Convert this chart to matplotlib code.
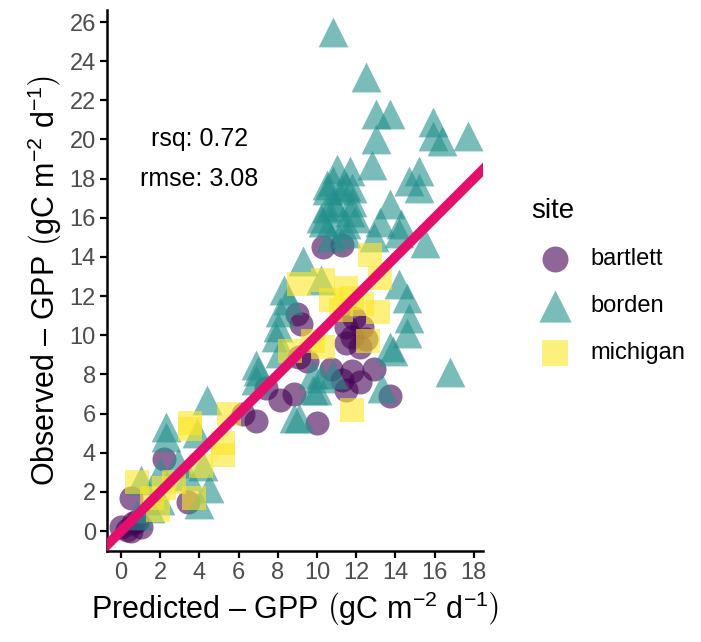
import matplotlib
matplotlib.use("Agg")
import matplotlib.pyplot as plt

plt.rcParams['font.family'] = ['Liberation Sans', 'DejaVu Sans']
plt.rcParams['mathtext.fontset'] = 'custom'
plt.rcParams['mathtext.rm'] = 'Liberation Sans'
plt.rcParams['mathtext.it'] = 'Liberation Sans:italic'

sites = ["bartlett", "borden", "michigan"]
colors = ["#440154", "#21908C", "#FDE725"]
markers = ["o", "^", "s"]
sizes = [300, 460, 280]

bartlett_x = [10.3, 11.3, 9.0, 9.2, 11.5, 11.8, 12.3, 11.5, 12.2, 11.9, 12.5,
              9.5, 10.7, 11.8, 12.9, 11.3, 11.5, 12.2, 7.4, 8.1, 8.8, 6.9, 10.0,
              13.7, 6.2, 9.1, 2.2, 3.4, 0.5, 0.6, 0.3, 1.0, 0.0, 0.5, 0.8]
bartlett_y = [14.5, 14.6, 11.1, 10.6, 10.4, 9.9, 10.4, 9.6, 9.4, 10.9, 9.8,
              8.7, 8.3, 8.2, 8.3, 7.7, 7.2, 7.6, 7.3, 6.7, 7.0, 5.6, 5.5,
              6.9, 6.0, 8.9, 3.7, 1.5, 1.7, 0.4, 0.05, 0.2, 0.2, 0.0, 0.5]

borden_x = [10.8, 12.5, 13.0, 13.7, 13.0, 12.8, 15.9, 15.9, 16.4, 17.7,
            15.2, 14.7, 15.2, 11.0, 11.7, 10.8, 11.5, 10.5, 11.3, 11.8,
            10.5, 11.7, 10.9, 13.7, 10.3, 13.2, 14.3, 10.7, 11.5, 14.2, 15.5,
            10.5, 10.8, 11.8, 10.2, 12.0, 11.5, 10.7, 12.9,
            14.2, 14.6, 14.7, 13.7, 13.9, 16.8, 8.3, 8.1, 8.0, 7.9, 8.5,
            10.2, 9.3, 8.1, 14.6, 6.9, 7.0, 6.9, 9.8, 10.8, 9.8, 9.1, 10.2,
            13.3, 10.0, 8.8, 4.4, 2.3, 2.3, 3.9, 4.2, 4.5, 4.0, 2.0, 2.0,
            1.0, 2.9, 3.4, 1.5, 0.8]
borden_y = [25.5, 23.2, 21.3, 21.3, 20.0, 18.7, 20.9, 20.2, 19.9, 20.2,
            18.4, 17.9, 17.5, 18.5, 18.4, 17.9, 17.6, 17.4, 17.4, 17.5,
            16.5, 16.3, 16.6, 16.7, 15.8, 15.8, 15.7, 15.8, 15.7, 15.2, 14.7,
            17.7, 16.8, 16.8, 16.0, 16.0, 15.2, 15.0, 15.0,
            12.6, 11.9, 10.9, 9.4, 9.2, 8.1, 12.3, 11.2, 10.4, 9.9, 11.8,
            12.8, 13.8, 9.1, 10.1, 8.5, 8.2, 7.7, 8.0, 8.0, 7.2, 5.8, 7.8,
            7.3, 7.2, 5.8, 6.7, 5.3, 4.8, 5.0, 3.3, 2.2, 1.4, 3.0, 1.6,
            2.6, 3.5, 2.8, 1.2, 0.8]

michigan_x = [12.7, 9.1, 10.3, 11.5, 13.2, 10.7, 11.8, 13.1, 12.6, 8.6, 10.3,
              9.8, 11.8, 12.3, 11.2, 5.5, 3.5, 5.2, 5.2, 4.1, 0.8, 2.7, 1.6,
              1.9, 3.7, 2.2, 3.5]
michigan_y = [14.1, 12.6, 12.8, 12.4, 12.9, 11.8, 11.9, 11.2, 9.7, 9.2, 9.4,
              9.7, 6.2, 11.6, 11.3, 6.0, 5.5, 4.5, 3.9, 3.3, 2.5, 2.5, 1.7,
              1.1, 1.7, 2.2, 5.2]

rsq_label = "rsq: 0.72"
rmse_label = "rmse: 3.08"
xticks = list(range(0, 19, 2))
yticks = list(range(0, 27, 2))

fig = plt.figure(figsize=(7.01, 6.42), dpi=100)
ax = fig.add_axes([0.1526, 0.1417, 0.689 - 0.1526, 0.984 - 0.1417])

data = [(bartlett_x, bartlett_y), (borden_x, borden_y), (michigan_x, michigan_y)]
handles = []
for (xs, ys), site, c, m, s in zip(data, sites, colors, markers, sizes):
    h = ax.scatter(xs, ys, s=s, c=c, marker=m, alpha=0.6, linewidths=0, label=site, zorder=2)
    handles.append(h)

ax.plot([-2, 20], [-2, 20], color="#E40F6A", lw=7, solid_capstyle='butt', zorder=3)
ax.set_xlim(-0.72, 18.47)
ax.set_ylim(-1.02, 26.6)

ax.set_xticks(xticks)
ax.set_yticks(yticks)
ax.tick_params(axis='both', colors='black', labelcolor='#4D4D4D', labelsize=17,
               length=5, width=1.6, direction='out', pad=3)
for sp in ['top', 'right']:
    ax.spines[sp].set_visible(False)
for sp in ['left', 'bottom']:
    ax.spines[sp].set_linewidth(1.8)

ax.text(4.0, 20.0, rsq_label, fontsize=18, ha='center', va='center')
ax.text(4.0, 18.0, rmse_label, fontsize=18, ha='center', va='center')

ax.set_xlabel(r'Predicted – GPP $\left(\mathrm{gC\ m^{-2}\ d^{-1}}\right)$', fontsize=22, labelpad=4)
ax.set_ylabel(r'Observed – GPP $\left(\mathrm{gC\ m^{-2}\ d^{-1}}\right)$', fontsize=22, labelpad=4)

leg = fig.legend(handles=handles, labels=sites, loc='upper left', bbox_to_anchor=(0.745, 0.707),
                 frameon=False, title='site', fontsize=17, title_fontsize=20,
                 handletextpad=0.5, labelspacing=1.05, markerscale=1.08, alignment='left',
                 borderaxespad=0)
for lh in leg.legend_handles:
    lh.set_alpha(0.6)

fig.savefig("out.png", dpi=100)
